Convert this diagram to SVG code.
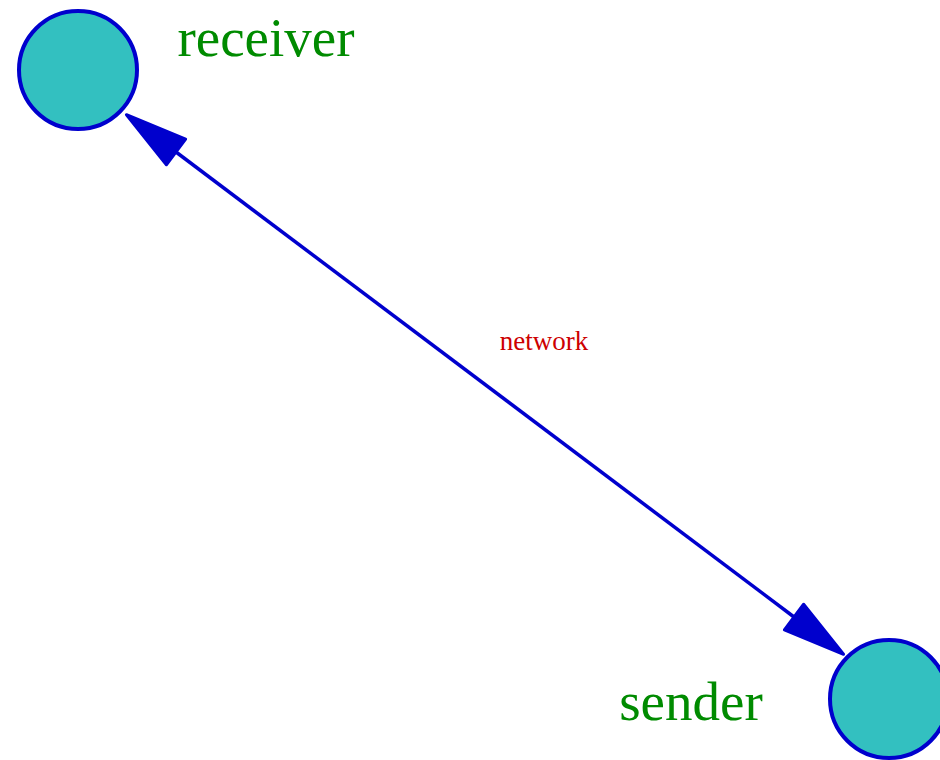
<svg xmlns="http://www.w3.org/2000/svg" width="940" height="760" viewBox="0 0 940 760">
  <style>
    .node circle { fill: #33c0c0; stroke: #0000cd; stroke-width: 4; }
    .label { font-family: "Liberation Serif", "Times New Roman", serif; fill: #008b00; font-size: 55px; text-anchor: middle; }
    .edge { fill: none; stroke: #0000cd; stroke-width: 3.5; }
    .edge-label { font-family: "Liberation Serif", "Times New Roman", serif; fill: #cd0000; font-size: 27px; text-anchor: middle; }
  </style>
  <defs>
    <marker id="arrow" markerUnits="userSpaceOnUse" viewBox="-4 -24 76 48" markerWidth="76" markerHeight="48" refX="0" refY="0" orient="auto-start-reverse">
      <path d="M0,-16 L62,0 L0,16 Z" fill="#0000cd" stroke="#0000cd" stroke-width="3" stroke-linejoin="round"/>
    </marker>
  </defs>
  <rect width="940" height="760" fill="#ffffff"/>

  <!-- connectors -->
  <g id="edges">
    <path class="edge" d="M176,152 L794,617" marker-start="url(#arrow)" marker-end="url(#arrow)"/>
    <text class="edge-label" x="544" y="350">network</text>
  </g>

  <!-- nodes -->
  <g id="receiver" class="node">
    <circle cx="78" cy="70" r="59"/>
    <text class="label" x="266" y="56">receiver</text>
  </g>
  <g id="sender" class="node">
    <circle cx="889" cy="699" r="59"/>
    <text class="label" x="691" y="720">sender</text>
  </g>
</svg>
